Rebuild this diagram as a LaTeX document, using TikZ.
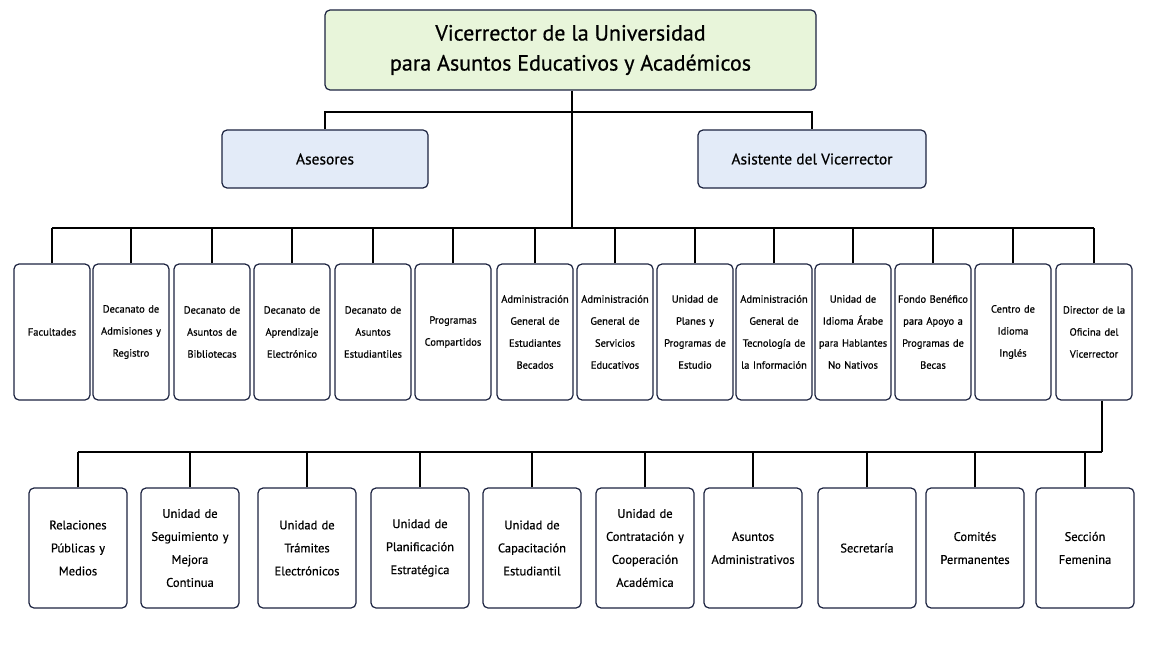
\documentclass[tikz,border=0pt]{standalone}
\usepackage{fontspec}
\setmainfont{PT Sans}
\newfontface\mfont{PT Sans}[FakeBold=0.6]
\definecolor{tg}{HTML}{E8F5DA}
\definecolor{tb}{HTML}{E3EBF8}
\definecolor{bd}{HTML}{1C2340}
\begin{document}
\begin{tikzpicture}[x=1pt,y=-1pt,
 bx/.style={draw=bd,line width=1.2pt,rounded corners=5pt,fill=white,align=center,inner sep=1pt},
 sm/.style={bx,minimum width=76pt,minimum height=136pt,text width=74pt,font=\mfont\fontsize{10.5}{22}\selectfont},
 bt/.style={bx,minimum width=98pt,minimum height=120pt,text width=94pt,font=\mfont\fontsize{12.5}{23}\selectfont},
 ln/.style={line width=1.2pt}]
\useasboundingbox (0,0) rectangle (1150,647);
\node[bx,fill=tg,minimum width=491pt,minimum height=80pt,font=\mfont\fontsize{22}{30}\selectfont] (top) at (570.5,50) {Vicerrector de la Universidad\\para Asuntos Educativos y Académicos};
\node[bx,fill=tb,minimum width=206pt,minimum height=58pt,font=\mfont\fontsize{15.5}{18}\selectfont] (ase) at (325,159) {Asesores};
\node[bx,fill=tb,minimum width=228pt,minimum height=58pt,font=\mfont\fontsize{15.5}{18}\selectfont] (asi) at (812,159) {Asistente del Vicerrector};
\coordinate (j1) at (572,112);
\coordinate (j2) at (572,228);
\draw[ln] (top.south -| j1) -- (j2);
\draw[ln] (ase.north) |- (j1) -| (asi.north);
\foreach \n/\x/\t in {
a/52/Facultades,
b/131/{Decanato de\\Admisiones y\\Registro},
c/212/{Decanato de\\Asuntos de\\Bibliotecas},
d/292/{Decanato de\\Aprendizaje\\Electrónico},
e/373/{Decanato de\\Asuntos\\Estudiantiles},
f/453/{Programas\\Compartidos},
g/535/{Administración\\General de\\Estudiantes\\Becados},
h/615/{Administración\\General de\\Servicios\\Educativos},
i/695/{Unidad de\\Planes y\\Programas de\\Estudio},
j/774/{Administración\\General de\\Tecnología de\\la Información},
k/853/{Unidad de\\Idioma Árabe\\para Hablantes\\No Nativos},
l/933/{Fondo Benéfico\\para Apoyo a\\Programas de\\Becas},
m/1013/{Centro de\\Idioma\\Inglés},
n/1094/{Director de la\\Oficina del\\Vicerrector}}{
 \node[sm] (\n) at (\x,332) {\t};
 \draw[ln] (\n.north) -- (\x,228);
}
\draw[ln] (a.north |- j2) -- (n.north |- j2);
\coordinate (j3) at (1102,452);
\draw[ln] (j3 |- n.south) -- (j3);
\foreach \n/\x/\t in {
p/78/{Relaciones\\Públicas y\\Medios},
q/190/{Unidad de\\Seguimiento y\\Mejora\\Continua},
r/307/{Unidad de\\Trámites\\Electrónicos},
s/420/{Unidad de\\Planificación\\Estratégica},
t/532/{Unidad de\\Capacitación\\Estudiantil},
u/645/{Unidad de\\Contratación y\\Cooperación\\Académica},
v/753/{Asuntos\\Administrativos},
w/867/{Secretaría},
y/975/{Comités\\Permanentes},
z/1085/{Sección\\Femenina}}{
 \node[bt] (\n) at (\x,548) {\t};
 \draw[ln] (\n.north) -- (\x,452);
}
\draw[ln] (p.north |- j3) -- (j3);
\end{tikzpicture}
\end{document}
